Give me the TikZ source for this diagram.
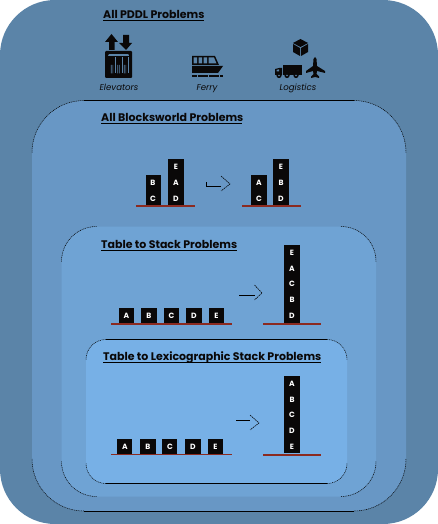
\documentclass[tikz,border=0pt]{standalone}
\usepackage{fontspec}
\setmainfont{Poppins}
\definecolor{lvlA}{HTML}{5B84A8}
\definecolor{lvlB}{HTML}{6897C5}
\definecolor{lvlC}{HTML}{6FA3D4}
\definecolor{lvlD}{HTML}{77B0E6}
\definecolor{ground}{HTML}{8B2A20}
\definecolor{ink}{HTML}{0A0808}
\tikzset{
  px/.style={x=1pt,y=-1pt},
  title/.style={font=\fontsize{11}{12}\selectfont\bfseries,text=ink,inner sep=0pt,anchor=base west},
  dom/.style={font=\fontsize{8.6}{10}\selectfont\itshape,text=ink,inner sep=0pt,anchor=base},
  letter/.style={font=\fontsize{7.6}{9}\selectfont\bfseries,text=white,inner sep=0pt},
  solidb/.style={fill=ink,draw=none},
  gline/.style={draw=ground,line width=2pt},
  gthin/.style={draw=ground,line width=1pt},
  uline/.style={draw=black,line width=0.9pt},
  edge/.style={draw=black,line width=0.9pt},
  arc/.style={draw=black,line width=0.5pt,dash pattern=on 1pt off 0.8pt},
  tail/.style={draw=black,line width=0.8pt},
  head/.style={draw=black,line width=0.55pt,dash pattern=on 1.6pt off 0.7pt},
}
% \panel{name}{x1}{y1}{x2}{y2}{r}{colour}: filled panel with dotted corner arcs
\newcommand{\panel}[7]{%
  \path[fill=#7,rounded corners=#6pt] (#2,#3) rectangle (#4,#5);
  \coordinate (#1nw) at ({#2+#6},#3);
  \coordinate (#1ne) at ({#4-#6},#3);
  \coordinate (#1sw) at ({#2+#6},#5);
  \coordinate (#1se) at ({#4-#6},#5);
  \draw[arc] (#2,{#3+#6}) arc[start angle=180,end angle=90,radius=#6pt];
  \draw[arc] (#1ne) arc[start angle=90,end angle=0,radius=#6pt];
  \draw[arc] (#4,{#5-#6}) arc[start angle=0,end angle=-90,radius=#6pt];
  \draw[arc] (#1sw) arc[start angle=270,end angle=180,radius=#6pt];
}
\newcommand{\blk}[5]{%
  \path[solidb] (#2,#3) rectangle (#4,#5);
  \coordinate (#1) at ({(#2+#4)/2},#3);
}
\newcommand{\openarrow}[6]{%
  \coordinate (#1t) at (#2,#3);
  \coordinate (#1e) at (#6,#3);
  \coordinate (#1a) at (#6,{#5-8});
  \coordinate (#1p) at (#4,#5);
  \coordinate (#1b) at (#6,{#5+7});
  \draw[tail] (#1t) -- (#1e);
  \draw[head] (#1a) -- (#1p) -- (#1b);
}
\begin{document}
\begin{tikzpicture}[px]
\useasboundingbox (0,0) rectangle (438,524);
% nested panels
\path[fill=lvlA,rounded corners=55pt] (0,0) rectangle (438,524);
\panel{p2}{32}{100.5}{406}{511}{52}{lvlB}
\draw[edge] (p2nw) -- (p2ne);
\draw[edge] (p2sw) -- (p2se);
\panel{p3}{61.5}{226.5}{376}{496.5}{35}{lvlC}
\panel{p4}{86}{339.5}{347}{483.5}{20}{lvlD}
\draw[edge] (p4nw) -- (p4ne);
\draw[edge] (p4sw) -- (p4se);
% titles
\node[title] (t1) at (103,18.7) {All PDDL Problems};
\draw[uline] (103,20.6) -- (204,20.6);
\node[title] (t2) at (101,121.7) {All Blocksworld Problems};
\draw[uline] (101,123.6) -- (242,123.6);
\node[title] (t3) at (101,248) {Table to Stack Problems};
\draw[uline] (101,250) -- (237,250);
\node[title] (t4) at (103,360.7) {Table to Lexicographic Stack Problems};
\draw[uline] (103,362.6) -- (321,362.6);
% elevator icon
\fill[ink] (109,50) -- (109,42) -- (105,42) -- (111.5,34) -- (118,42) -- (114.5,42) -- (114.5,50) -- cycle;
\fill[ink] (123,35) -- (123,43) -- (119,43) -- (126,50) -- (132,43) -- (129,43) -- (129,35) -- cycle;
\fill[ink,rounded corners=1pt,even odd rule] (105,51) rectangle (132,78)
   (108,54) rectangle (129,75);
\fill[ink] (108,56) rectangle (129,75);
\foreach \cx in {112,118.5,125}{
  \fill[lvlA] (\cx-1.2,73.5) rectangle (\cx-0.5,65) (\cx+0.5,73.5) rectangle (\cx+1.2,65);
  \fill[lvlA] (\cx+3,57) rectangle (\cx+3.6,73.5);
}
\node[dom] (lbl1) at (119,91) {Elevators};
% ferry icon
\fill[ink] (192,56) -- (215,56) -- (219,65) -- (192,65) -- cycle;
\fill[lvlA] (193.5,57.5) rectangle (197,63.5) (198.5,57.5) rectangle (202,63.5) (203.5,57.5) rectangle (207,63.5) (208.5,57.5) -- (214,57.5) -- (216.5,63.5) -- (208.5,63.5) -- cycle;
\fill[ink] (192,66) -- (223,66) -- (218,73) -- (192,73) -- cycle;
\draw[ink,line width=2.4pt,dash pattern=on 5pt off 0.6pt] (192,76.3) -- (223,76.3);
\node[dom] (lbl2) at (207,91) {Ferry};
% logistics icons
\fill[ink] (300.5,39) -- (308,43) -- (300.5,47) -- (293,43) -- cycle;
\fill[ink] (293,44) -- (300,48) -- (300,56) -- (293,52) -- cycle;
\fill[ink] (308,44) -- (301,48) -- (301,56) -- (308,52) -- cycle;
\fill[ink] (283,65) rectangle (302,75);
\fill[ink] (275,69) -- (279,68) -- (282,68) -- (282,75) -- (275,75) -- cycle;
\fill[lvlA] (276.5,70) -- (279,69.3) -- (279,71.5) -- (276.5,71.5) -- cycle;
\foreach \cx in {279,287,296}{\fill[ink] (\cx,75.5) circle (2.6pt); \fill[lvlA] (\cx,75.5) circle (0.9pt);}
\fill[ink] (315,57) -- (316.5,59) -- (317,66) -- (325,71) -- (325,73) -- (317,71) -- (316.5,74) -- (319,76.5) -- (319,78) -- (315,77) -- (311,78) -- (311,76.5) -- (313.5,74) -- (313,71) -- (306,73) -- (306,71) -- (313,66) -- (313.5,59) -- cycle;
\node[dom] (lbl3) at (298,91) {Logistics};
% scene 1
\draw[gline] (136,205.5) -- (195,205.5);
\draw[gline] (242,205.5) -- (301,205.5);
\blk{a1}{146}{175}{161}{205}
\blk{a2}{168}{159}{184}{205}
\blk{a3}{251}{175}{267}{205}
\blk{a4}{273}{159}{288.5}{205}
\foreach \n/\x/\y/\l in {aB/153/183/B,aC/153/198.5/C,aE/176/167/E,aA/176/183/A,aD/176/199/D,bA/259/183/A,bC/259/199/C,bE/281/167/E,bB/281/183/B,bD/281/199/D}
  \node[letter] (\n) at (\x,\y) {\l};
\draw[tail] (206.5,182) -- (206.5,186.5);
\openarrow{ar1}{206.5}{186.5}{230}{184}{221}
% scene 2
\draw[gline] (111,324) -- (232,324);
\draw[gline] (263,324) -- (321,324);
\blk{c1}{119}{308}{134}{323}
\blk{c2}{141}{308}{157}{323}
\blk{c3}{164}{308}{179}{323}
\blk{c4}{186}{308}{202}{323}
\blk{c5}{209}{308}{224}{323}
\blk{c6}{284}{245}{300}{323}
\foreach \n/\x/\y/\l in {cA/126.5/316/A,cB/149/316/B,cC/171.5/316/C,cD/194/316/D,cE/216.5/316/E,dE/292/253/E,dA/292/269/A,dC/292/284/C,dB/292/300/B,dD/292/316/D}
  \node[letter] (\n) at (\x,\y) {\l};
\openarrow{ar2}{239}{295}{262}{293}{254.5}
% scene 3
\draw[gthin] (111,454.5) -- (232,454.5);
\draw[gline] (263,454.5) -- (321,454.5);
\blk{e1}{117}{439}{132}{454}
\blk{e2}{140}{439}{156}{454}
\blk{e3}{162}{439}{177}{454}
\blk{e4}{185}{439}{201}{454}
\blk{e5}{208}{439}{223}{454}
\blk{e6}{284}{376}{300}{453}
\foreach \n/\x/\y/\l in {eA/125/447/A,eB/148/447/B,eC/170/447/C,eD/193/447/D,eE/215.5/447/E,fA/292/384/A,fB/292/399.5/B,fC/292/415/C,fD/292/431/D,fE/292/447/E}
  \node[letter] (\n) at (\x,\y) {\l};
\openarrow{ar3}{236}{420.5}{259}{423}{250}
\end{tikzpicture}
\end{document}
